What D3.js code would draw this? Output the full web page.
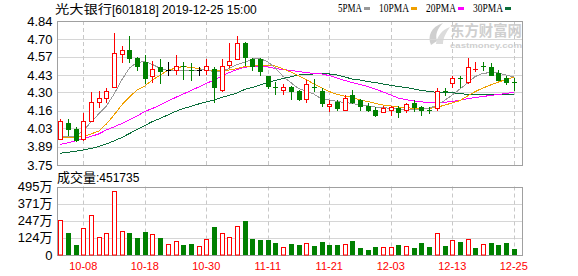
<!DOCTYPE html>
<html lang="zh">
<head>
  <meta charset="UTF-8">
  <title>光大银行 日K</title>
  <style>
    html, body {
      background: #fff;
      margin: 0px;
      overflow: hidden;
    }
    #container {
      position: absolute;
      left: 0px;
      top: 0px;
      width: 578px;
      height: 276px;
    }
    text {
      font-family: "Liberation Sans", "Noto Sans CJK SC", sans-serif;
    }
  </style>
</head>
<body>
<div id="container"></div>

<script src="https://cdnjs.cloudflare.com/ajax/libs/d3/7.8.5/d3.min.js"></script>
<script>

  // ---- data ----
  var dates = ["09-26","09-27","09-30",
    "10-08","10-09","10-10","10-11","10-14","10-15","10-16","10-17","10-18","10-21","10-22","10-23","10-24","10-25","10-28","10-29","10-30","10-31",
    "11-01","11-04","11-05","11-06","11-07","11-08","11-11","11-12","11-13","11-14","11-15","11-18","11-19","11-20","11-21","11-22","11-25","11-26","11-27","11-28","11-29",
    "12-02","12-03","12-04","12-05","12-06","12-09","12-10","12-11","12-12","12-13","12-16","12-17","12-18","12-19","12-20","12-23","12-24","12-25"];

  var open  = [3.95,4.07,4.02,3.95,4.08,4.23,4.26,4.34,4.59,4.62,4.56,4.53,4.42,4.49,4.47,4.47,4.50,4.47,4.47,4.47,
               4.48,4.32,4.51,4.55,4.67,4.55,4.55,4.42,4.34,4.32,4.34,4.31,4.25,4.34,4.31,4.20,4.23,4.17,4.28,4.24,
               4.20,4.17,4.15,4.17,4.18,4.17,4.22,4.19,4.17,4.18,4.31,4.37,4.41,4.38,4.47,4.50,4.49,4.45,4.41,4.38];
  var high  = [4.10,4.10,4.04,4.14,4.30,4.31,4.33,4.75,4.65,4.73,4.57,4.58,4.54,4.55,4.53,4.58,4.53,4.52,4.49,4.55,
               4.49,4.55,4.67,4.73,4.68,4.56,4.56,4.42,4.38,4.36,4.35,4.32,4.39,4.40,4.33,4.24,4.24,4.28,4.32,4.25,
               4.22,4.19,4.20,4.20,4.20,4.22,4.24,4.20,4.19,4.33,4.33,4.42,4.42,4.56,4.53,4.53,4.52,4.47,4.42,4.41];
  var low   = [3.95,3.98,3.93,3.94,4.08,4.19,4.23,4.34,4.53,4.53,4.47,4.37,4.38,4.37,4.43,4.44,4.40,4.39,4.43,4.44,
               4.23,4.31,4.49,4.55,4.51,4.47,4.43,4.33,4.29,4.29,4.25,4.24,4.23,4.31,4.20,4.16,4.17,4.17,4.22,4.17,
               4.16,4.12,4.15,4.13,4.11,4.15,4.16,4.13,4.14,4.17,4.28,4.34,4.34,4.37,4.46,4.47,4.43,4.39,4.36,4.32];
  var close = [4.08,4.02,3.94,4.08,4.23,4.26,4.31,4.60,4.62,4.56,4.50,4.41,4.48,4.46,4.47,4.50,4.49,4.46,4.47,4.50,
               4.34,4.50,4.54,4.67,4.57,4.50,4.46,4.35,4.33,4.34,4.31,4.25,4.36,4.33,4.22,4.21,4.18,4.26,4.23,4.20,
               4.17,4.13,4.18,4.19,4.15,4.21,4.19,4.17,4.16,4.31,4.30,4.41,4.40,4.49,4.48,4.49,4.43,4.39,4.38,4.37];

  // volume, 万手
  var volume = [253,159,72,193,289,128,157,463,174,157,123,166,150,123,77,101,72,80,65,116,
                202,157,128,207,246,116,108,108,87,55,80,72,84,65,94,72,72,77,101,53,
                36,58,55,55,72,65,51,87,58,157,65,108,94,116,51,77,87,72,87,45.1735];

  var ma5  = [3.964,3.966,3.970,4.007,4.076,4.136,4.197,4.287,4.393,4.484,4.526,4.533,4.511,4.482,4.465,4.464,4.464,4.465,4.469,4.474,
              4.454,4.458,4.480,4.511,4.527,4.552,4.556,4.530,4.484,4.420,4.374,4.329,4.310,4.287,4.250,4.242,4.231,4.223,4.216,4.204,
              4.197,4.189,4.185,4.178,4.172,4.172,4.172,4.172,4.178,4.204,4.238,4.280,4.325,4.371,4.420,4.444,4.449,4.446,4.431,4.416];
  var ma10 = [3.958,3.958,3.960,3.964,3.985,4.007,4.060,4.129,4.204,4.265,4.318,4.348,4.393,4.431,4.465,4.484,4.496,4.488,4.480,4.469,
              4.464,4.464,4.469,4.480,4.496,4.499,4.503,4.507,4.499,4.477,4.454,4.427,4.397,4.363,4.333,4.306,4.284,4.272,4.261,4.242,
              4.231,4.216,4.204,4.197,4.189,4.183,4.180,4.179,4.179,4.185,4.204,4.219,4.238,4.272,4.306,4.333,4.356,4.378,4.397,4.414];
  var ma20 = [3.907,3.918,3.932,3.947,3.966,3.985,4.015,4.038,4.064,4.091,4.121,4.155,4.178,4.204,4.234,4.261,4.287,4.314,4.340,4.367,
              4.393,4.424,4.450,4.473,4.490,4.496,4.499,4.492,4.480,4.473,4.465,4.458,4.449,4.443,4.439,4.427,4.409,4.390,4.374,4.359,
              4.344,4.325,4.303,4.280,4.257,4.244,4.236,4.228,4.223,4.222,4.225,4.231,4.241,4.251,4.261,4.269,4.276,4.284,4.291,4.300];
  var ma30 = [3.839,3.846,3.854,3.864,3.875,3.890,3.909,3.932,3.958,3.988,4.019,4.049,4.079,4.102,4.129,4.155,4.178,4.193,4.212,4.227,
              4.242,4.261,4.278,4.295,4.322,4.337,4.356,4.374,4.390,4.405,4.418,4.431,4.437,4.439,4.439,4.439,4.431,4.416,4.401,4.393,
              4.382,4.374,4.363,4.353,4.344,4.337,4.325,4.315,4.306,4.300,4.297,4.297,4.291,4.284,4.280,4.280,4.280,4.280,4.280,4.282];

  var priceTicks = ["4.84","4.70","4.57","4.43","4.30","4.16","4.03","3.89","3.75"];
  var volTicks = [495, 371, 247, 124, 0];
  var dateTicks = ["10-08","10-18","10-30","11-11","11-21","12-03","12-13","12-25"];
  var maNames = ["5PMA","10PMA","20PMA","30PMA"];

  var title = "光大银行";
  var titleRest = "[601818] 2019-12-25 15:00";

  // ---- layout ----
  var W = 578, H = 276;
  var left = 57, right = 522.5;
  var pTop = 21, pBot = 165;
  var vTop = 186.5, vBot = 255;

  var RED = "#ff0000", GREEN = "#008000";
  var maColors = ["#999999", "#f0a000", "#ff00ff", "#0a6e3a"];
  var GRID = "#d6d6d6", FRAME = "#a0a0a0";

  var svg = d3.select('#container').append('svg')
    .attr('width', W)
    .attr('height', H);

  var x = d3.scaleBand().domain(dates).range([56.4, 56.4 + dates.length * 7.686]);
  var y = d3.scaleLinear().domain([3.75, 4.84]).range([pBot, pTop]);
  var yv = d3.scaleLinear().domain([0, 495]).range([vBot, vTop]);

  function cx(i) { return Math.round(x(dates[i]) + x.bandwidth() / 2); }

  // title
  var t = svg.append('text').attr('x', 55).attr('y', 14).attr('fill', '#000');
  t.append('tspan').style('font-family', '"Noto Sans CJK SC"').style('font-size', '12px')
    .attr('textLength', 57).attr('lengthAdjust', 'spacingAndGlyphs').text(title);
  t.append('tspan').style('font-size', '12px').text(titleRest);

  // legend
  var lx = 338;
  maNames.forEach(function(name, k) {
    var w = name.length * 6;
    svg.append('text')
      .attr('x', lx).attr('y', 12)
      .attr('textLength', w).attr('lengthAdjust', 'spacingAndGlyphs')
      .style('font-family', '"Liberation Serif", serif')
      .style('font-size', '12px')
      .attr('fill', '#000')
      .text(name);
    svg.append('rect')
      .attr('x', lx + w + 2).attr('y', 7)
      .attr('width', 6).attr('height', 3)
      .attr('fill', maColors[k]);
    lx += w + 17;
  });

  // watermark
  var wm = svg.append('g').attr('fill', '#cfcfcf');
  wm.append('path').attr('d', 'M431,45 C427,36 431,27 443,23 C437,29 435,35 437,41 Z');
  wm.append('path').attr('d', 'M436,44 C437,36 442,30 450,27 C446,33 443,38 443,44 Z').attr('fill', '#dcdcdc');
  wm.append('text').attr('x', 450).attr('y', 36)
    .style('font-family', '"Noto Sans CJK SC"').style('font-size', '14.5px').style('font-weight', 'bold')
    .attr('textLength', 72).attr('lengthAdjust', 'spacingAndGlyphs')
    .text('东方财富网');
  wm.append('text').attr('x', 450).attr('y', 47.5)
    .style('font-size', '8px').style('font-weight', 'bold')
    .attr('textLength', 72).attr('lengthAdjust', 'spacingAndGlyphs')
    .text('eastmoney.com');

  // horizontal grid, price panel
  svg.append('g').selectAll('line')
    .data(priceTicks)
    .enter().append('line')
    .attr('x1', left).attr('x2', right)
    .attr('y1', d => Math.round(y(+d)) + 0.5)
    .attr('y2', d => Math.round(y(+d)) + 0.5)
    .style('stroke', GRID);

  // horizontal grid, volume panel
  svg.append('g').selectAll('line')
    .data(volTicks)
    .enter().append('line')
    .attr('x1', left).attr('x2', right)
    .attr('y1', d => Math.round(yv(d)) + 0.5)
    .attr('y2', d => Math.round(yv(d)) + 0.5)
    .style('stroke', GRID);

  // vertical dashed grid
  [[pTop, pBot], [vTop, vBot]].forEach(function(r) {
    svg.append('g').selectAll('line')
      .data(dateTicks)
      .enter().append('line')
      .attr('x1', d => Math.round(x(d) + x.bandwidth() / 2) + 0.5)
      .attr('x2', d => Math.round(x(d) + x.bandwidth() / 2) + 0.5)
      .attr('y1', r[0]).attr('y2', r[1])
      .style('stroke', '#c8c8c8')
      .style('stroke-dasharray', '4,3');
  });

  // frames
  [[pTop, pBot], [vTop, vBot]].forEach(function(r) {
    svg.append('rect')
      .attr('x', left + 0.5).attr('y', Math.round(r[0]) + 0.5)
      .attr('width', right - left - 0.5).attr('height', Math.round(r[1]) - Math.round(r[0]))
      .attr('fill', 'none')
      .style('stroke', FRAME);
  });

  // y labels
  svg.append('g').selectAll('text')
    .data(priceTicks)
    .enter().append('text')
    .attr('x', 52.5).attr('y', d => y(+d) + 4.5)
    .attr('text-anchor', 'end')
    .style('font-size', '13px')
    .attr('fill', '#000')
    .text(d => d);

  svg.append('g').selectAll('text')
    .data(volTicks)
    .enter().append('text')
    .attr('x', 52.5).attr('y', d => yv(d) + 4.5)
    .attr('text-anchor', 'end')
    .style('font-size', '13px')
    .attr('fill', '#000')
    .text(d => d === 0 ? '0' : d + '万');

  // x labels
  svg.append('g').selectAll('text')
    .data(dateTicks)
    .enter().append('text')
    .attr('x', d => x(d) + x.bandwidth() / 2)
    .attr('y', 270)
    .attr('text-anchor', 'middle')
    .style('font-size', '11px')
    .attr('fill', RED)
    .text(d => d);

  // volume caption
  var vc = svg.append('text').attr('x', 57).attr('y', 181.5).attr('fill', '#000');
  vc.append('tspan').style('font-family', '"Noto Sans CJK SC"').style('font-size', '13px').text('成交量');
  vc.append('tspan').style('font-size', '12px').text(':' + Math.round(volume[volume.length - 1] * 10000));

  // MA lines
  var line = d3.line()
    .x((d, i) => x(dates[i]) + x.bandwidth() / 2)
    .y(d => y(d));

  [ma30, ma20, ma10, ma5].forEach(function(s, k) {
    svg.append('path')
      .datum(s)
      .attr('d', line)
      .attr('fill', 'none')
      .style('stroke', maColors[3 - k])
      .style('stroke-width', 1)
      .style('shape-rendering', 'crispEdges');
  });

  // candles
  var idx = d3.range(dates.length);
  function candleColor(i) {
    if (close[i] > open[i]) return RED;
    if (close[i] < open[i]) return GREEN;
    return '#000';
  }

  var candles = svg.append('g').selectAll('g')
    .data(idx)
    .enter().append('g');

  candles.append('line')
    .attr('x1', i => cx(i) + 0.5).attr('x2', i => cx(i) + 0.5)
    .attr('y1', i => Math.round(y(high[i])))
    .attr('y2', i => Math.round(y(low[i])) + 1)
    .style('stroke', candleColor);

  candles.each(function(i) {
    var g = d3.select(this);
    var top = Math.round(y(Math.max(open[i], close[i])));
    var bot = Math.round(y(Math.min(open[i], close[i])));
    var c = candleColor(i);
    if (bot - top < 2) {
      g.append('rect')
        .attr('x', cx(i) - 2).attr('y', top)
        .attr('width', 5).attr('height', Math.max(1, bot - top))
        .attr('fill', c);
    } else if (close[i] > open[i]) {
      g.append('rect')
        .attr('x', cx(i) - 1.5).attr('y', top + 0.5)
        .attr('width', 4).attr('height', bot - top)
        .attr('fill', '#fff')
        .style('stroke', c);
    } else {
      g.append('rect')
        .attr('x', cx(i) - 2).attr('y', top)
        .attr('width', 5).attr('height', bot - top + 1)
        .attr('fill', c);
    }
  });

  // volume bars: colour from close against the previous close
  function volUp(i) {
    return i === 0 ? close[i] >= open[i] : close[i] >= close[i - 1];
  }

  svg.append('g').selectAll('rect')
    .data(idx)
    .enter().append('rect')
    .attr('x', i => volUp(i) ? cx(i) - 1.5 : cx(i) - 2)
    .attr('y', i => Math.round(yv(volume[i])) + (volUp(i) ? 0.5 : 0))
    .attr('width', i => volUp(i) ? 4 : 5)
    .attr('height', i => Math.round(vBot) - Math.round(yv(volume[i])) - (volUp(i) ? 0.5 : 0))
    .attr('fill', i => volUp(i) ? '#fff' : GREEN)
    .style('stroke', i => volUp(i) ? RED : 'none');

</script>
</body>
</html>
